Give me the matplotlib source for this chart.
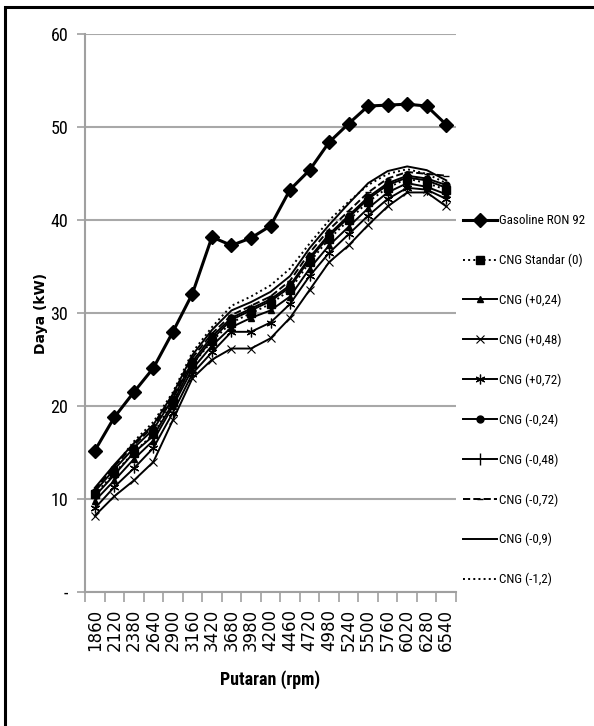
import matplotlib
matplotlib.use("Agg")
import matplotlib.pyplot as plt
from matplotlib.patches import Rectangle
from matplotlib import font_manager

rpm = ["1860", "2120", "2380", "2640", "2900", "3160", "3420", "3680", "3980", "4200",
       "4460", "4720", "4980", "5240", "5500", "5760", "6020", "6280", "6540"]

gasoline = [15.2, 18.8, 21.5, 24.1, 28.0, 32.1, 38.2, 37.3, 38.1, 39.4,
            43.3, 45.4, 48.4, 50.4, 52.3, 52.4, 52.5, 52.3, 50.3]
cng_std = [10.5, 12.8, 15.0, 17.0, 20.5, 24.5, 27.0, 29.0, 30.0, 31.0,
           32.5, 35.5, 38.0, 40.0, 42.0, 43.5, 44.5, 44.0, 43.3]
cng_p024 = [9.8, 12.0, 14.3, 16.3, 20.0, 24.0, 26.5, 28.5, 29.5, 30.3,
            31.8, 34.8, 37.3, 39.3, 41.3, 43.0, 44.0, 43.6, 42.8]
cng_p048 = [8.2, 10.3, 12.0, 14.0, 18.5, 23.0, 25.0, 26.2, 26.2, 27.3,
            29.5, 32.5, 35.5, 37.3, 39.5, 41.5, 43.0, 43.0, 41.5]
cng_p072 = [9.0, 11.3, 13.3, 15.5, 19.3, 23.5, 25.8, 28.0, 28.0, 29.0,
            31.0, 34.0, 36.5, 38.5, 40.5, 42.3, 43.5, 43.3, 42.3]
cng_m024 = [10.8, 13.2, 15.5, 17.5, 20.8, 24.8, 27.5, 29.5, 30.5, 31.5,
            33.0, 36.0, 38.5, 40.5, 42.5, 44.0, 44.8, 44.5, 43.8]
cng_m048 = [10.3, 12.6, 15.0, 16.8, 20.3, 24.5, 27.2, 29.3, 30.3, 31.3,
            32.8, 35.8, 38.3, 40.3, 42.3, 43.8, 44.6, 44.3, 43.5]
cng_m072 = [11.0, 13.5, 15.8, 17.8, 21.0, 25.2, 27.8, 29.8, 30.8, 31.8,
            33.5, 36.5, 39.0, 41.0, 43.0, 44.5, 45.2, 45.0, 44.8]
cng_m09 = [11.2, 13.7, 16.0, 18.0, 21.3, 25.5, 28.2, 30.3, 31.2, 32.3,
           34.0, 37.0, 39.5, 41.8, 44.0, 45.3, 45.8, 45.4, 44.3]
cng_m12 = [11.0, 13.5, 16.2, 18.3, 21.5, 25.8, 28.5, 30.8, 31.8, 33.0,
           34.8, 37.5, 40.0, 42.0, 43.8, 45.0, 45.5, 45.0, 44.0]

# narrow font like the original Calibri text, if one is installed
installed = {f.name for f in font_manager.fontManager.ttflist}
narrow_ok = False
narrow = dict(family="Liberation Sans")
leg_size, tick_size = 8.8, 12
for name in ["Liberation Sans Narrow", "Roboto Condensed", "Open Sans Condensed",
             "Noto Sans Condensed", "DejaVu Sans Condensed"]:
    if name in installed:
        narrow = dict(family=name)
        narrow_ok = True
        leg_size, tick_size = 9.4, 13
        break

fig = plt.figure(figsize=(5.94, 7.26), dpi=100)
ax = fig.add_axes([0.1431, 0.1846, 0.6246, 0.7679])

x = list(range(len(rpm)))
k = dict(color="black", lw=1.4)
ax.plot(x, gasoline, marker="D", ms=7.5, lw=2.2, color="black", label="Gasoline RON 92")
ax.plot(x, cng_std, marker="s", ms=6, ls=":", label="CNG Standar (0)", **k)
ax.plot(x, cng_p024, marker="^", ms=5, label="CNG (+0,24)", **k)
ax.plot(x, cng_p048, marker="x", ms=6, mew=0.8, label="CNG (+0,48)", **k)
ax.plot(x, cng_p072, marker=(6, 2, 0), ms=7, mew=0.9, label="CNG (+0,72)", **k)
ax.plot(x, cng_m024, marker="o", ms=5, label="CNG (-0,24)", **k)
ax.plot(x, cng_m048, marker="|", ms=8, mew=1.0, label="CNG (-0,48)", **k)
ax.plot(x, cng_m072, marker="_", ms=5, ls="--", label="CNG (-0,72)", **k)
ax.plot(x, cng_m09, label="CNG (-0,9)", **k)
ax.plot(x, cng_m12, ls=":", label="CNG (-1,2)", **k)

ax.set_xlim(-0.5, len(rpm) - 0.5)
ax.set_ylim(0, 60)
ax.set_yticks([0, 10, 20, 30, 40, 50, 60])
ax.set_yticklabels(["-", "10", "20", "30", "40", "50", "60"], fontsize=tick_size, **narrow)
ax.set_xticks(x)
ax.set_xticklabels(rpm, rotation=90, fontsize=12, family="DejaVu Sans")
ax.set_xticks([i - 0.5 for i in range(len(rpm) + 1)], minor=True)
ax.tick_params(axis="x", which="major", length=0, pad=12)
ax.tick_params(axis="x", which="minor", length=7, color="#a0a0a0", width=1.2)
ax.tick_params(axis="y", length=6, color="#a0a0a0", width=1.2, pad=6)

ax.grid(axis="y", color="#a8a8a8", lw=1.5)
ax.set_axisbelow(True)
for s in ["top", "right"]:
    ax.spines[s].set_visible(False)
for s in ["left", "bottom"]:
    ax.spines[s].set_color("#a0a0a0")
    ax.spines[s].set_linewidth(1.5)

ax.set_ylabel("Daya (kW)", fontsize=10, fontweight="bold", labelpad=2)
ax.set_xlabel("Putaran (rpm)", fontsize=13, fontweight="bold", labelpad=14, **narrow)

ax.legend(loc="upper left", bbox_to_anchor=(1.005, 0.687), frameon=False,
          prop=dict(size=leg_size, **narrow), handlelength=2.6,
          handletextpad=0.12, labelspacing=2.03 if narrow_ok else 2.3,
          borderaxespad=0)

fig.patches.append(Rectangle((5 / 594, -0.05), 1.2, 1 - 7 / 726 + 0.05,
                             transform=fig.transFigure, fill=False,
                             edgecolor="black", lw=2.2))

fig.savefig("out.png", dpi=100)
